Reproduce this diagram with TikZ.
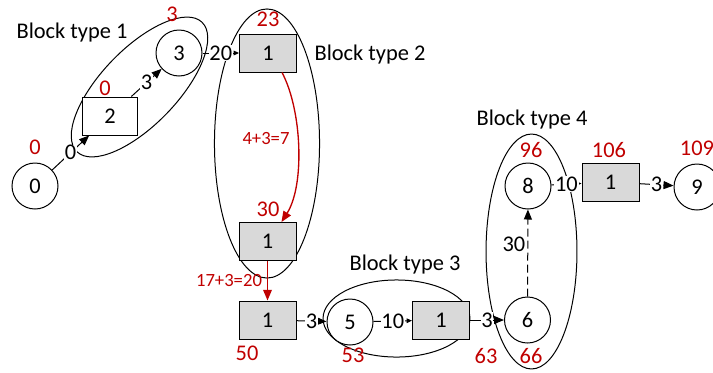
\documentclass[tikz,border=0pt]{standalone}
\usepackage{fontspec}
\setmainfont{Carlito}
\usetikzlibrary{arrows.meta,calc}
\definecolor{redc}{HTML}{C00000}
\definecolor{boxgray}{HTML}{D9D9D9}
\newcommand{\mainsz}{\fontsize{16.8pt}{20pt}\selectfont}
\newcommand{\smallsz}{\fontsize{14pt}{16pt}\selectfont}
\tikzset{
  circ/.style={circle, draw, line width=0.75pt, fill=white, minimum size=34.5pt, inner sep=0pt, font=\mainsz},
  wbox/.style={rectangle, draw, line width=0.75pt, fill=white, minimum width=41.25pt, minimum height=28.5pt, inner sep=0pt, font=\mainsz},
  gbox/.style={rectangle, draw, line width=0.75pt, fill=boxgray, minimum width=42.75pt, minimum height=28.5pt, inner sep=0pt, font=\mainsz},
  grp/.style={draw, line width=0.75pt},
  edge/.style={draw, line width=0.75pt, -{Triangle[length=7.5pt,width=6pt]}},
  edgesm/.style={draw, line width=0.75pt, -{Triangle[length=4pt,width=3.5pt]}},
  lab/.style={fill=white, inner sep=0.6pt, font=\mainsz},
  rednum/.style={text=redc, inner sep=0pt, font=\mainsz},
  redlab/.style={text=redc, inner sep=0pt, font=\smallsz},
  redarr/.style={draw=redc, line width=1pt, -{Triangle[length=8pt,width=6.5pt]}},
  title/.style={inner sep=0pt, font=\mainsz},
}
\begin{document}
\begin{tikzpicture}[x=0.75pt,y=-0.75pt]
\useasboundingbox (0,0) rectangle (713,372);
% group ellipses
\draw[grp, rotate around={46:(139.5,87)}] (139.5,87) ellipse [x radius=67.5pt, y radius=28.5pt];
\draw[grp] (267,143.5) ellipse [x radius=39.4pt, y radius=100.9pt];
\draw[grp] (396.5,318.5) ellipse [x radius=55.1pt, y radius=28.9pt];
\draw[grp] (531.5,251.5) ellipse [x radius=34.1pt, y radius=88.1pt];
% titles
\node[title] (t1) at (72,33) {Block type 1};
\node[title] (t2) at (370,55) {Block type 2};
\node[title] (t3) at (405,265) {Block type 3};
\node[title] (t4) at (532,120) {Block type 4};
% nodes
\node[circ] (n0) at (35,186) {0};
\node[wbox] (n2) at (110,116) {2};
\node[circ] (n3) at (179,53) {3};
\node[gbox] (r1) at (268,53) {1};
\node[gbox] (r2) at (267.5,241.5) {1};
\node[gbox] (r3) at (267.5,320) {1};
\node[circ] (n5) at (350,322) {5};
\node[gbox] (r4) at (441,320) {1};
\node[circ] (n6) at (527.5,320) {6};
\node[circ] (n8) at (528,186) {8};
\node[gbox] (r5) at (610.5,182) {1};
\node[circ] (n9) at (697,187) {9};
% edges
\draw[edge] (n0) -- node[lab] {0} (n2);
\draw[edge] (n2) -- node[lab] {3} (n3);
\draw[edgesm] (n3) -- node[lab] {20} (r1);
\draw[edge] (r3) -- node[lab] {3} (n5);
\draw[edgesm] (n5) -- node[lab] {10} (r4);
\draw[edge] (r4) -- node[lab] {3} (n6);
\draw[edge, dash pattern=on 6pt off 3pt] (n6) -- node[pos=0.6, left, inner sep=1.5pt, font=\mainsz] {30} (n8);
\draw[edgesm] (n8) -- node[lab] {10} (r5);
\draw[edge] (r5) -- node[lab] {3} (n9);
% red arrows
\draw[redarr] ([xshift=10.5pt]r1.south) .. controls (302,110) and (305,185) .. ([xshift=10.5pt]r2.north);
\draw[redarr] (r2.south) -- (r3.north);
\node[redlab] (l47) at (266,139) {4+3=7};
\node[redlab] (l1720) at (229,280) {17+3=20};
% red numbers
\node[rednum] (v0) at (35,147) {0};
\node[rednum] (v2) at (105,88) {0};
\node[rednum] (v3) at (172,14) {3};
\node[rednum] (v23) at (268,19) {23};
\node[rednum] (v30) at (268,209) {30};
\node[rednum] (v50) at (247,353) {50};
\node[rednum] (v53) at (353,355) {53};
\node[rednum] (v63) at (486,356) {63};
\node[rednum] (v66) at (531,356) {66};
\node[rednum] (v96) at (531,150) {96};
\node[rednum] (v106) at (609,150) {106};
\node[rednum] (v109) at (697,148) {109};
\end{tikzpicture}
\end{document}
